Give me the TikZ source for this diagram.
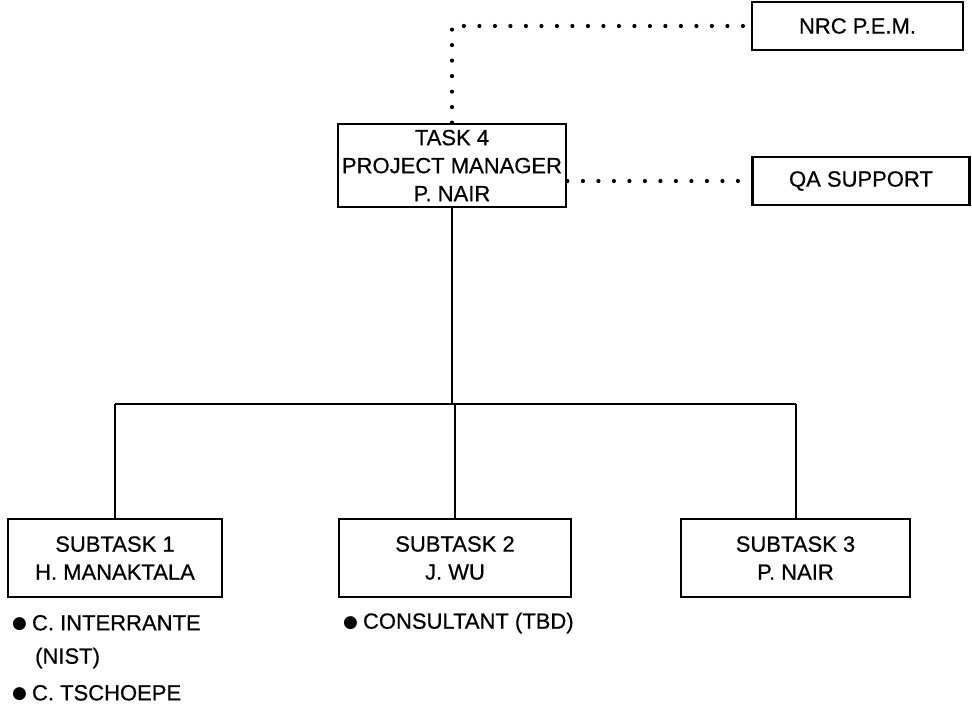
\documentclass[tikz,border=0pt]{standalone}
\usepackage{fontspec}
\setmainfont{Liberation Sans}[FakeBold=0.6]
\newfontfamily\dvfont{DejaVu Sans}
\newcommand{\blt}{\raisebox{1.5pt}{\dvfont\fontsize{17}{17}\selectfont ●}\hspace{5pt}}
\begin{document}
\begin{tikzpicture}[x=1pt,y=-1pt,
  every node/.style={font=\fontsize{22}{28}\selectfont},
  box/.style={draw, line width=2.8pt, align=center, inner sep=0pt},
  link/.style={line width=2pt},
  dots/.style={line width=4.2pt, line cap=round, dash pattern=on 0pt off 15.5pt},
  item/.style={anchor=west, inner sep=0pt}]
\useasboundingbox (0,0) rectangle (972,726);
\node[box, minimum width=211pt, minimum height=48pt] (nrc) at (857.5,26) {NRC P.E.M.};
\node[box, minimum width=228pt, minimum height=83pt] (task) at (452,165.5) {TASK 4\\PROJECT MANAGER\\P. NAIR};
\node[box, minimum width=217pt, minimum height=48pt] (qa) at (861,181) {QA SUPPORT};
\node[box, minimum width=214pt, minimum height=78pt] (s1) at (115,558) {SUBTASK 1\\H. MANAKTALA};
\node[box, minimum width=232pt, minimum height=78pt] (s2) at (455,558) {SUBTASK 2\\J. WU};
\node[box, minimum width=229pt, minimum height=78pt] (s3) at (795.5,558) {SUBTASK 3\\P. NAIR};
\coordinate (bus) at (455,404);
\draw[link] (task.south) -- (task.south |- bus);
\draw[link] (s1.north |- bus) -- (s3.north |- bus);
\draw[link] (s1.north |- bus) -- (s1.north);
\draw[link] (s2.north |- bus) -- (s2.north);
\draw[link] (s3.north |- bus) -- (s3.north);
\draw[dots] (task.north) |- (nrc.west);
\draw[dots] (qa.west -| task.east) -- (qa.west);
\node[item] (i1) at (12,623) {\blt C. INTERRANTE};
\node[item] (i2) at (35,658) {(NIST)};
\node[item] (i3) at (12,693) {\blt C. TSCHOEPE};
\node[item] (i4) at (343,623) {\blt CONSULTANT (TBD)};
\end{tikzpicture}
\end{document}
